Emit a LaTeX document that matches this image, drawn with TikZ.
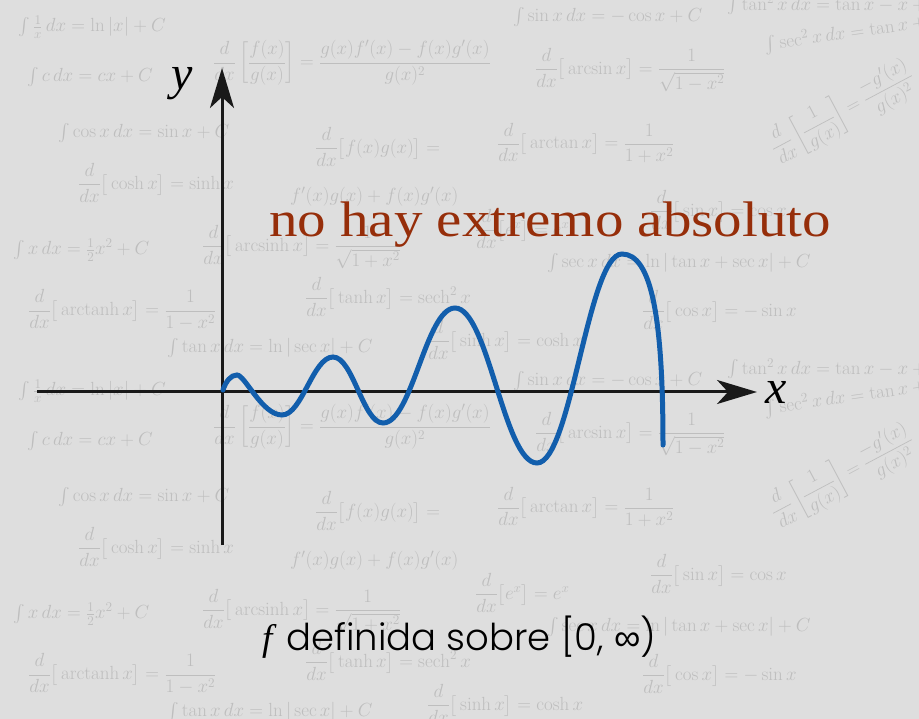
\documentclass[tikz,border=0pt]{standalone}
\usepackage{fix-cm}
\usepackage{amsmath}
\usepackage{fontspec}
\usetikzlibrary{arrows.meta}
\newfontfamily\titlefont[FakeStretch=1.14]{Liberation Serif}
\newfontfamily\labelfont{Liberation Serif}
\newfontfamily\notefont{Poppins Light}
\newfontfamily\symfont{Liberation Sans}
\definecolor{bgG}{RGB}{222,222,222}
\definecolor{fmG}{RGB}{190,190,190}
\definecolor{curveB}{RGB}{18,94,172}
\definecolor{titleR}{RGB}{150,46,10}

\begin{document}
\begin{tikzpicture}[x=1pt,y=-1pt,>={Stealth[length=40pt,width=24pt,inset=11pt]},
  formula/.style={text=fmG,anchor=west,inner sep=0pt,font=\fontsize{19}{22}\selectfont},
  axis/.style={->,line width=3pt,black!90}]
\useasboundingbox (0,0) rectangle (919,719);
\fill[bgG] (0,0) rectangle (919,719);
\clip (0,0) rectangle (919,719);
% faint formulas behind, the sheet repeats every 364px
\foreach \dy in {0,364}{
\begin{scope}[shift={(0,\dy)}]
\node[formula] (f1) at (18,27) {$\int \tfrac{1}{x}\,dx = \ln|x|+C$};
\node[formula] (f2) at (27,77) {$\int c\,dx = cx + C$};
\node[formula] (f3) at (213,63) {$\dfrac{d}{dx}\left[\dfrac{f(x)}{g(x)}\right] = \dfrac{g(x)f'(x)-f(x)g'(x)}{g(x)^2}$};
\node[formula] (f4) at (58,133) {$\int \cos x\,dx = \sin x + C$};
\node[formula] (f5) at (315,147) {$\dfrac{d}{dx}\big[f(x)g(x)\big] =$};
\node[formula] (f6) at (290,197) {$f'(x)g(x)+f(x)g'(x)$};
\node[formula] (f7) at (78,183) {$\dfrac{d}{dx}\big[\cosh x\big] = \sinh x$};
\node[formula] (f8) at (13,250) {$\int x\,dx = \tfrac{1}{2}x^2 + C$};
\node[formula] (f9) at (202,247) {$\dfrac{d}{dx}\big[\operatorname{arcsinh} x\big] = \dfrac{1}{\sqrt{1+x^2}}$};
\node[formula] (f10) at (28,310) {$\dfrac{d}{dx}\big[\operatorname{arctanh} x\big] = \dfrac{1}{1-x^2}$};
\node[formula] (f11) at (305,297) {$\dfrac{d}{dx}\big[\tanh x\big] = \operatorname{sech}^2 x$};
\node[formula] (f12) at (167,348) {$\int \tan x\,dx = \ln|\sec x| + C$};
\node[formula] (f13) at (513,17) {$\int \sin x\,dx = -\cos x + C$};
\node[formula] (f14) at (727,5) {$\int \tan^2 x\,dx = \tan x - x + C$};
\node[formula,rotate=8] (f15) at (765,45) {$\int \sec^2 x\,dx = \tan x + C$};
\node[formula] (f16) at (535,70) {$\dfrac{d}{dx}\big[\arcsin x\big] = \dfrac{1}{\sqrt{1-x^2}}$};
\node[formula] (f17) at (497,143) {$\dfrac{d}{dx}\big[\arctan x\big] = \dfrac{1}{1+x^2}$};
\node[formula,rotate=28] (f18) at (772,150) {$\dfrac{d}{dx}\left[\dfrac{1}{g(x)}\right] = \dfrac{-g'(x)}{g(x)^2}$};
\node[formula] (f19) at (650,210) {$\dfrac{d}{dx}\big[\sin x\big] = \cos x$};
\node[formula] (f20) at (475,229) {$\dfrac{d}{dx}\big[e^x\big] = e^x$};
\node[formula] (f21) at (547,263) {$\int \sec x\,dx = \ln|\tan x + \sec x| + C$};
\node[formula] (f22) at (642,310) {$\dfrac{d}{dx}\big[\cos x\big] = -\sin x$};
\node[formula] (f23) at (427,340) {$\dfrac{d}{dx}\big[\sinh x\big] = \cosh x$};
\end{scope}}
% axes
\coordinate (O) at (222,392);
\coordinate (xtail) at (37,392);
\coordinate (xtip) at (757,392);
\coordinate (ytail) at (222,545);
\coordinate (ytip) at (222,68);
\draw[axis] (xtail) -- (xtip);
\draw[axis] (ytail) -- (ytip);
\node[anchor=base,font=\labelfont\itshape\fontsize{48}{50}\selectfont] (xlab) at (776,403) {x};
\node[anchor=base,font=\labelfont\itshape\fontsize{48}{50}\selectfont] (ylab) at (182,90) {y};
% the function, extrema joined with flat tangents
\draw[curveB,line width=5pt,line cap=round] (223,390)
  .. controls (226,381) and (231,375) .. (237,375)
  .. controls (245,375) and (262,415) .. (282,415)
  .. controls (302,415) and (313,357) .. (333,357)
  .. controls (353,357) and (363,423) .. (383,423)
  .. controls (412,423) and (426,308) .. (455,308)
  .. controls (488,308) and (504,463) .. (537,463)
  .. controls (571,463) and (588,254) .. (622,254)
  .. controls (652,254) and (663,320) .. (663,445);
\node[anchor=base,text=titleR,font=\titlefont\fontsize{50}{56}\selectfont] (title) at (550,237) {no hay extremo absoluto};
\node[anchor=base,font=\notefont\fontsize{37}{40}\selectfont] (note) at (459,650) {{\labelfont\itshape f}\hspace{4pt} definida sobre [0, {\symfont ∞})};
\end{tikzpicture}
\end{document}
